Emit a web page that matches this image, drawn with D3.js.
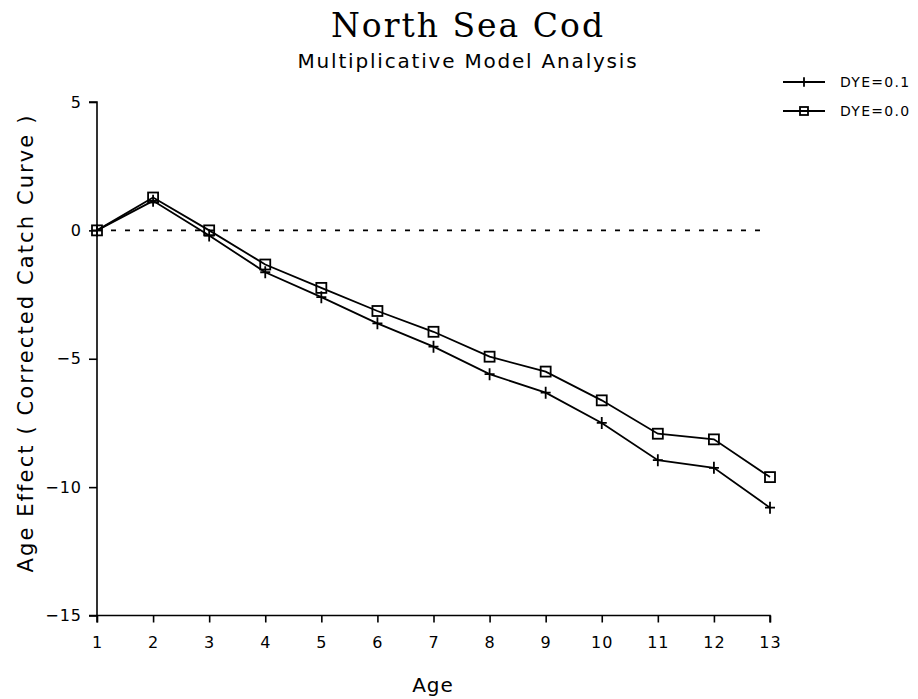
<!DOCTYPE html>
<html>
<head>
<meta charset="utf-8">
<script src="https://cdn.jsdelivr.net/npm/d3@7"></script>
<style>
body { margin: 0; background: #fff; }
svg text { font-family: "DejaVu Sans", sans-serif; fill: #000; }
</style>
</head>
<body>
<div id="chart"></div>
<script>
const ages = [1, 2, 3, 4, 5, 6, 7, 8, 9, 10, 11, 12, 13];
const dye01 = [0, 1.15, -0.2, -1.63, -2.6, -3.62, -4.53, -5.6, -6.32, -7.5, -8.95, -9.25, -10.8];
const dye00 = [0, 1.28, 0, -1.33, -2.24, -3.14, -3.95, -4.92, -5.5, -6.62, -7.92, -8.14, -9.61];
const yTicks = [5, 0, -5, -10, -15];
const seriesNames = ['DYE=0.1', 'DYE=0.0'];

const svg = d3.select('#chart')
	.append('svg')
	.attr('width', 918)
	.attr('height', 699);

const x = d3.scaleLinear().domain([1, 13]).range([97, 770]);
const y = d3.scaleLinear().domain([-15, 5]).range([615.5, 102]);

svg.append('text')
	.attr('x', 468).attr('y', 37)
	.attr('text-anchor', 'middle')
	.style('font-family', '"DejaVu Serif", serif')
	.style('font-size', '33px')
	.style('letter-spacing', '2px')
	.text('North Sea Cod');

svg.append('text')
	.attr('x', 468).attr('y', 68)
	.attr('text-anchor', 'middle')
	.style('font-size', '20px')
	.style('letter-spacing', '1.8px')
	.text('Multiplicative Model Analysis');

const xAxis = svg.append('g')
	.attr('transform', `translate(0,${y(-15)})`)
	.call(d3.axisBottom(x).tickValues(ages).tickSize(7).tickPadding(14).tickFormat(d3.format('d')));

const yAxis = svg.append('g')
	.attr('transform', `translate(${x(1)},0)`)
	.call(d3.axisLeft(y).tickValues(yTicks).tickSize(8).tickPadding(7)
		.tickFormat(d => d < 0 ? '\u2212' + Math.abs(d) : d));

[xAxis, yAxis].forEach(a => {
	a.select('.domain').attr('stroke', '#000').attr('stroke-width', 1.6);
	a.selectAll('.tick line').attr('stroke', '#000').attr('stroke-width', 1.6);
	a.selectAll('.tick text')
		.style('font-size', '16px')
		.style('letter-spacing', '1px')
		.style('font-family', '"DejaVu Sans", sans-serif');
});
xAxis.select('.domain').attr('d', `M${x(1)},7V0H${x(13)}V7`);
yAxis.select('.domain').attr('d', `M-8,${y(5)}H0V${y(-15)}H-8`);

svg.append('text')
	.attr('x', 433).attr('y', 692)
	.attr('text-anchor', 'middle')
	.style('font-size', '20px')
	.style('letter-spacing', '1px')
	.text('Age');

svg.append('text')
	.attr('transform', `translate(33,343) rotate(-90)`)
	.attr('text-anchor', 'middle')
	.style('font-size', '21px')
	.style('letter-spacing', '2.1px')
	.text('Age Effect ( Corrected Catch Curve )');

// zero reference line
svg.append('line')
	.attr('x1', x(1)).attr('x2', x(13) - 6)
	.attr('y1', y(0)).attr('y2', y(0))
	.attr('stroke', '#000')
	.attr('stroke-width', 1.8)
	.attr('stroke-dasharray', '5,9');

const line = d3.line().x((d, i) => x(ages[i])).y(d => y(d));

function plus(g, cx, cy, s = 1) {
	g.append('path')
		.attr('d', `M${cx - 5 * s},${cy}H${cx + 5 * s}M${cx},${cy - 6 * s}V${cy + 6 * s}`)
		.attr('stroke', '#000').attr('stroke-width', 1.8).attr('fill', 'none');
}
function square(g, cx, cy, s = 1) {
	g.append('rect')
		.attr('x', cx - 5 * s).attr('y', cy - 5 * s)
		.attr('width', 10 * s).attr('height', 10 * s)
		.attr('stroke', '#000').attr('stroke-width', 1.8).attr('fill', 'none');
}

[[dye01, plus], [dye00, square]].forEach(([vals, marker]) => {
	const g = svg.append('g');
	g.append('path')
		.datum(vals)
		.attr('d', line)
		.attr('fill', 'none')
		.attr('stroke', '#000')
		.attr('stroke-width', 1.8);
	vals.forEach((v, i) => marker(g, x(ages[i]), y(v)));
});

// legend
const legend = svg.append('g');
[[plus, 82], [square, 111]].forEach(([marker, ly], i) => {
	legend.append('line')
		.attr('x1', 783).attr('x2', 825)
		.attr('y1', ly).attr('y2', ly)
		.attr('stroke', '#000').attr('stroke-width', 1.8);
	marker(legend, 804, ly, 0.8);
	legend.append('text')
		.attr('x', 840).attr('y', ly + 5)
		.style('font-size', '14px')
		.style('letter-spacing', '1.3px')
		.text(seriesNames[i]);
});
</script>
</body>
</html>
